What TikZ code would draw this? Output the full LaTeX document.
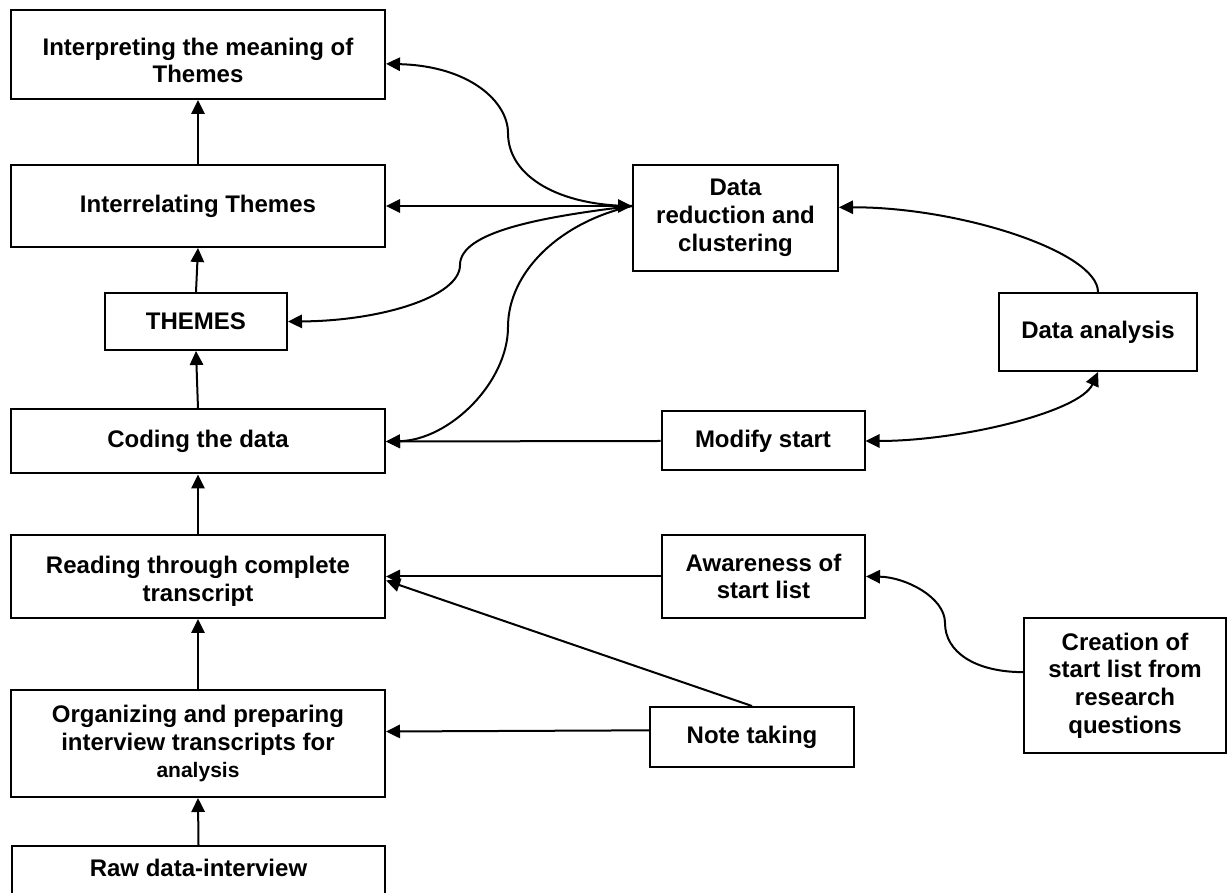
\documentclass[tikz,border=0pt]{standalone}
\usepackage{fontspec}
\setmainfont{Liberation Sans}
\usetikzlibrary{arrows.meta}
\tikzset{
  box/.style={draw, line width=1.5pt, inner sep=0pt, align=center,
    font=\bfseries\fontsize{18}{20.8}\selectfont},
  sz/.style 2 args={minimum width=#1*0.75pt, minimum height=#2*0.75pt},
  link/.style={line width=1.5pt, -{Triangle[length=10.5pt,width=10pt]}},
  twoway/.style={line width=1.5pt,
    {Triangle[length=10.5pt,width=10pt]}-{Triangle[length=10.5pt,width=10pt]}},
}
\begin{document}
\begin{tikzpicture}[x=0.75pt,y=0.75pt]
\useasboundingbox (0,0) rectangle (1227,892);
\clip (0,0) rectangle (1227,892);

% main column
\node[box, sz={374}{89}]  (int)  at (198,837.5) {\rule{0pt}{22pt}Interpreting the meaning of\\Themes};
\node[box, sz={374}{82}]  (rel)  at (198,686)   {Interrelating Themes};
\node[box, sz={182}{57}]  (thm)  at (196,570.5) {THEMES};
\node[box, sz={374}{64}]  (cod)  at (198,450.5) {Coding the data};
\node[box, sz={374}{83}]  (read) at (198,315.5) {\rule{0pt}{20pt}Reading through complete\\transcript};
\node[box, sz={374}{107}] (org)  at (198,148.5)
  {Organizing and preparing\\interview transcripts for\\{\fontsize{15.75}{18}\selectfont analysis}};
\node[box, anchor=north, minimum width=373*0.75pt, text height=23pt, text depth=32pt]
  (raw) at (198.5,47) {Raw data-interview};

% right side
\node[box, sz={205}{106}] (dr)   at (735.5,674) {Data\\reduction and\\clustering};
\node[box, sz={198}{78}]  (da)   at (1098,560)  {Data analysis};
\node[box, sz={203}{59}]  (mod)  at (763,451)   {Modify start};
\node[box, sz={203}{83}]  (aw)   at (763.5,315.5) {Awareness of\\start list};
\node[box, sz={204}{60}]  (note) at (752,155)   {Note taking};
\node[box, sz={202}{135}] (cre)  at (1125,206.5) {Creation of\\start list from\\research\\questions};

\coordinate (drw) at ([yshift=9pt]dr.west);

% upward flow
\draw[link] (raw.north) -- (org.south);
\draw[link] (org.north) -- (read.south);
\draw[link] (read.north) -- (cod.south);
\draw[link] (cod.north) -- (thm.south);
\draw[link] (thm.north) -- (rel.south);
\draw[link] (rel.north) -- (int.south);

% links from data reduction
\draw[twoway] (rel.east) -- (drw);
\draw[link] (drw) .. controls (560,686) and (508,715) .. (508,759)
                 .. controls (508,790) and (470,826) .. ([yshift=-7pt]int.east);
\draw[link] (drw) .. controls (540,675) and (460,660) .. (460,627)
                 .. controls (460,595) and (380,571) .. (thm.east);
\draw[link] (drw) .. controls (560,670) and (508,620) .. (508,565)
                 .. controls (508,510) and (450,452) .. (cod.east);

% data analysis loop
\draw[link] (da.north) .. controls (1098,640) and (960,685) .. ([yshift=8pt]dr.east);
\draw[twoway] (mod.east) .. controls (960,451) and (1080,480) .. (da.south);
\draw[link] (mod.west) -- (cod.east);

% start list and notes
\draw[link] (aw.west) -- (read.east);
\draw[link] (note.north) -- ([yshift=-3pt]read.east);
\draw[link] ([yshift=5pt]note.west) -- ([yshift=9pt]org.east);
\draw[link] ([yshift=10pt]cre.west) .. controls (975,220) and (945,240) .. (945,269)
                 .. controls (945,295) and (905,315) .. (aw.east);
\end{tikzpicture}
\end{document}
